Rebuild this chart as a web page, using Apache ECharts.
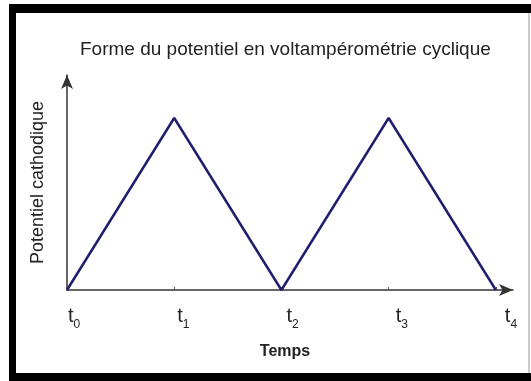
<!DOCTYPE html>
<html>
<head>
<meta charset="utf-8">
<script src="https://cdn.jsdelivr.net/npm/echarts@6/dist/echarts.min.js"></script>
<style>
  html, body { margin: 0; padding: 0; background: #fff; }
  #chart { width: 531px; height: 381px; }
</style>
</head>
<body>
<div id="chart"></div>
<script>
// Triangular potential sweep used in cyclic voltammetry
const times = [0, 1, 2, 3, 4];
const potential = [0, 1, 0, 1, 0];
const tickLabels = ['0', '1', '2', '3', '4'];   // subscripts of t
const titleText = 'Forme du potentiel en voltampérométrie cyclique';
const xName = 'Temps';
const yName = 'Potentiel cathodique';

const chart = echarts.init(document.getElementById('chart'), null, { renderer: 'canvas' });
const font = '"Liberation Sans", Arial, Helvetica, sans-serif';

// rich styles for the t labels; each successive label sits slightly further right
const labelRich = {};
times.forEach(function (t, i) {
  labelRich['t' + i] = { fontFamily: font, fontSize: 20, color: '#222', verticalAlign: 'bottom', padding: [0, 0, 0, 1 + i * 2] };
});
labelRich.s = { fontFamily: font, fontSize: 12, color: '#222', verticalAlign: 'bottom', padding: [0, 0, -5, 0] };

const option = {
  animation: false,
  backgroundColor: '#ffffff',
  title: {
    text: titleText,
    left: 75,
    top: 35,
    textStyle: { fontFamily: font, fontSize: 19, fontWeight: 'normal', color: '#222' }
  },
  grid: { left: 67, right: 18, top: 75, bottom: 91 },
  xAxis: {
    type: 'value',
    min: 0,
    max: 4.16,
    name: xName,
    nameLocation: 'middle',
    nameGap: 54,
    nameTextStyle: { fontFamily: font, fontSize: 16, fontWeight: 'bold', color: '#222', padding: [0, 10, 0, 0] },
    axisLine: {
      show: true,
      symbol: ['none', 'arrow'],
      symbolSize: [9, 14],
      lineStyle: { color: '#333', width: 1.5 }
    },
    axisTick: {
      show: true,
      inside: true,
      length: 3,
      customValues: times,
      lineStyle: { color: '#555', width: 1 }
    },
    axisLabel: {
      customValues: times,
      margin: 16,
      align: 'left',
      formatter: function (v) {
        const i = times.indexOf(v);
        return i < 0 ? '' : '{t' + i + '|t}{s|' + tickLabels[i] + '}';
      },
      rich: labelRich
    },
    splitLine: { show: false }
  },
  yAxis: {
    type: 'value',
    min: 0,
    max: 1.25,
    name: yName,
    nameLocation: 'middle',
    nameGap: 20,
    nameRotate: 90,
    nameTextStyle: { fontFamily: font, fontSize: 18, color: '#222' },
    axisLine: {
      show: true,
      symbol: ['none', 'arrow'],
      symbolSize: [9, 14],
      lineStyle: { color: '#333', width: 1.5 }
    },
    axisTick: { show: false },
    axisLabel: { show: false },
    splitLine: { show: false }
  },
  series: [{
    type: 'line',
    data: times.map((t, i) => [t, potential[i]]),
    showSymbol: false,
    lineStyle: { color: '#1f1f6e', width: 2.5 },
    z: 3
  }],
  graphic: [
    // black frame
    { type: 'rect', shape: { x: 9, y: 4, width: 522, height: 9 }, style: { fill: '#000' }, z: 10 },
    { type: 'rect', shape: { x: 9, y: 4, width: 7, height: 377 }, style: { fill: '#000' }, z: 10 },
    { type: 'rect', shape: { x: 9, y: 373, width: 522, height: 8 }, style: { fill: '#000' }, z: 10 },
    { type: 'rect', shape: { x: 528.5, y: 13, width: 1, height: 360 }, style: { fill: '#999' }, z: 10 }
  ]
};

chart.setOption(option);
</script>
</body>
</html>
